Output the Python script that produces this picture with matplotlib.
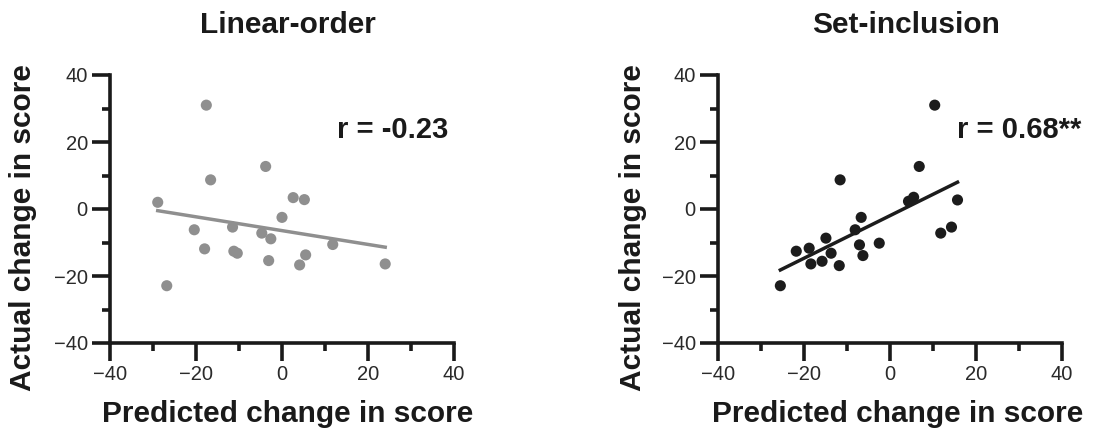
import matplotlib
matplotlib.use("Agg")
import matplotlib.pyplot as plt
from matplotlib.ticker import MultipleLocator

plt.rcParams['font.family'] = ['Liberation Sans', 'DejaVu Sans']

# Linear-order panel (predicted, actual)
lin_x = [-28.9, -26.8, -17.6, -16.6, -20.4, -18.0, -11.5, -11.2, -10.4, -3.8,
         -4.7, -2.6, -3.1, 0.0, 2.6, 5.2, 4.1, 5.5, 11.8, 24.0]
lin_y = [2.0, -22.9, 31.0, 8.7, -6.2, -11.9, -5.4, -12.6, -13.2, 12.7,
         -7.2, -8.9, -15.4, -2.5, 3.4, 2.8, -16.7, -13.7, -10.6, -16.4]
lin_fit_x = [-28.9, 24.0]
lin_fit_y = [-0.5, -11.4]

# Set-inclusion panel
set_x = [-25.5, -21.8, -18.8, -18.4, -15.8, -14.9, -13.7, -11.8, -11.6, -8.1,
         -6.7, -7.1, -6.3, -2.5, 4.3, 5.5, 6.8, 10.4, 11.8, 14.3, 15.7]
set_y = [-22.9, -12.6, -11.7, -16.4, -15.6, -8.7, -13.2, -16.9, 8.7, -6.2,
         -2.5, -10.7, -13.9, -10.2, 2.3, 3.5, 12.7, 31.0, -7.2, -5.4, 2.7]
set_fit_x = [-25.5, 15.7]
set_fit_y = [-18.2, 8.0]

W, H = 1094, 434
fig = plt.figure(figsize=(W / 100, H / 100), dpi=100)

grey = '#8f8f8f'
dark = '#1c1c1c'

panels = [
    (110, lin_x, lin_y, lin_fit_x, lin_fit_y, grey, 'Linear-order', 288,
     'r = -0.23', 38.7, 'right', 23, 288),
    (718, set_x, set_y, set_fit_x, set_fit_y, dark, 'Set-inclusion', 906,
     'r = 0.68**', 15.5, 'left', 633, 898),
]

for (left, xs, ys, fx, fy, col, title, tx, rtxt, rx, rha, ylx, xlx) in panels:
    ax = fig.add_axes([left / W, (H - 343) / H, 344 / W, 268 / H])
    ax.plot(fx, fy, color=col, linewidth=2.5, zorder=2)
    ax.scatter(xs, ys, s=64, color=col, edgecolors='none', zorder=3)
    ax.set_xlim(-40, 40)
    ax.set_ylim(-40, 40)
    ax.xaxis.set_major_locator(MultipleLocator(20))
    ax.xaxis.set_minor_locator(MultipleLocator(10))
    ax.yaxis.set_major_locator(MultipleLocator(20))
    ax.yaxis.set_minor_locator(MultipleLocator(10))
    for s in ['top', 'right']:
        ax.spines[s].set_visible(False)
    for s in ['left', 'bottom']:
        ax.spines[s].set_linewidth(2.6)
        ax.spines[s].set_color('#1a1a1a')
    ax.tick_params(which='major', length=13, width=2.6, color='#1a1a1a',
                   labelsize=14.5, labelcolor='#2a2a2a', pad=3)
    ax.tick_params(which='minor', length=6, width=2.6, color='#1a1a1a')
    ax.text(rx, 21.1, rtxt, ha=rha, va='baseline', fontsize=21,
            fontweight='bold', color='#1a1a1a')
    fig.text(tx / W, 1 - 33.3 / H, title, ha='center', va='baseline',
             fontsize=21.5, fontweight='bold', color='#1a1a1a')
    fig.text(ylx / W, 1 - 228 / H, 'Actual change in score', rotation=90,
             ha='center', va='center', fontsize=21.5, fontweight='bold',
             color='#1a1a1a')
    fig.text(xlx / W, 1 - 421.7 / H, 'Predicted change in score',
             ha='center', va='baseline', fontsize=21.5, fontweight='bold',
             color='#1a1a1a')

fig.savefig('out.png', dpi=100)
